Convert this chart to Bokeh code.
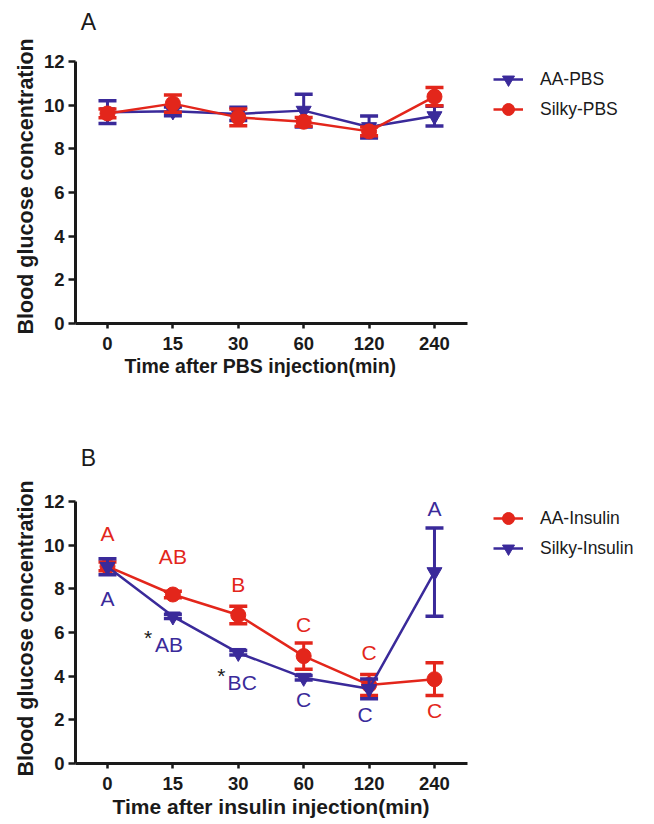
from bokeh.plotting import figure
from bokeh.layouts import column
from bokeh.models import FixedTicker, Legend, LegendItem, Range1d, Label, Title, ColumnDataSource
from bokeh.core.properties import value
from bokeh.embed import file_html
from bokeh.resources import INLINE

# ---------------- data ----------------
time_labels = ["0", "15", "30", "60", "120", "240"]
xi = list(range(len(time_labels)))

# Panel A (PBS)
aa_pbs_mean = [9.68, 9.72, 9.60, 9.75, 9.00, 9.50]
aa_pbs_sem = [0.52, 0.20, 0.30, 0.75, 0.50, 0.45]
silky_pbs_mean = [9.62, 10.07, 9.44, 9.24, 8.80, 10.39]
silky_pbs_sem = [0.20, 0.40, 0.38, 0.20, 0.20, 0.42]

# Panel B (Insulin)
aa_ins_mean = [9.03, 7.74, 6.80, 4.92, 3.60, 3.86]
aa_ins_sem = [0.20, 0.15, 0.40, 0.60, 0.48, 0.75]
silky_ins_mean = [9.01, 6.74, 5.07, 3.93, 3.42, 8.77]
silky_ins_sem = [0.37, 0.10, 0.10, 0.10, 0.45, 2.02]

# significance letters (panel B)
red_letters = ["A", "AB", "B", "C", "C", "C"]
red_letter_x = [0, 1, 2, 3, 4, 5]
red_letter_y = [10.55, 9.49, 8.22, 6.37, 5.07, 2.44]
blue_letters = ["A", "AB", "BC", "C", "C", "A"]
blue_letter_x = [0, 0.94, 2.06, 3.0, 3.94, 5.0]
blue_letter_y = [7.58, 5.45, 3.70, 2.94, 2.25, 11.70]
star_x = [0.62, 1.74]
star_y = [5.75, 4.02]

RED = "#e3261b"
BLUE = "#3a2a9a"
AXC = "#1a1a1a"
FONT = "Liberation Sans"
PX = 262 / 12.0  # pixels per y unit
XPX = 65.4       # pixels per category


def make_fig(height, top, frame_h, bottom, xlabel, xlabel_size, xlabel_off, ylabel_off):
    p = figure(width=654, height=height, output_backend="svg", toolbar_location=None,
               x_range=Range1d(-0.489, -0.489 + 579 / XPX),
               y_range=Range1d(0, frame_h / PX),
               min_border_left=75, min_border_right=0,
               min_border_top=top, min_border_bottom=bottom)
    p.outline_line_color = None
    p.xgrid.visible = False
    p.ygrid.visible = False
    p.background_fill_color = "white"
    p.border_fill_color = "white"
    for ax in (p.xaxis[0], p.yaxis[0]):
        ax.axis_line_width = 3
        ax.axis_line_color = AXC
        ax.major_tick_line_color = AXC
        ax.major_tick_line_width = 2.5
        ax.major_tick_in = 0
        ax.minor_tick_line_color = None
        ax.major_label_text_font = FONT
        ax.major_label_text_font_style = "bold"
        ax.major_label_text_font_size = "18.5px"
        ax.major_label_text_color = AXC
    p.xaxis[0].bounds = (-0.489, 5.5)
    p.xaxis[0].ticker = FixedTicker(ticks=xi)
    p.xaxis[0].major_label_overrides = {i: t for i, t in zip(xi, time_labels)}
    p.xaxis[0].major_tick_out = 5
    p.xaxis[0].major_label_standoff = 8
    p.yaxis[0].bounds = (0, 12)
    p.yaxis[0].ticker = FixedTicker(ticks=[0, 2, 4, 6, 8, 10, 12])
    p.yaxis[0].major_tick_out = 7
    p.yaxis[0].major_label_standoff = 4
    # axis titles (as side titles so they can be centred on the axis line)
    p.add_layout(Title(text=xlabel, align="left", offset=xlabel_off, standoff=0,
                       text_font=FONT, text_font_style="bold", text_font_size=xlabel_size,
                       text_color=AXC), "below")
    p.add_layout(Title(text="Blood glucose concentration", align="left", offset=ylabel_off,
                       standoff=6, text_font=FONT, text_font_style="bold",
                       text_font_size="21.5px", text_color=AXC), "left")
    return p


def series(p, mean, sem, color, marker):
    src = ColumnDataSource(dict(
        x=xi, y=mean,
        lo=[m - s for m, s in zip(mean, sem)],
        hi=[m + s for m, s in zip(mean, sem)]))
    p.segment(x0="x", y0="lo", x1="x", y1="hi", source=src, line_color=color, line_width=3)
    p.scatter(x="x", y="lo", source=src, marker="dash", size=18, line_color=color, line_width=3.5)
    p.scatter(x="x", y="hi", source=src, marker="dash", size=18, line_color=color, line_width=3.5)
    ln = p.line(x="x", y="y", source=src, line_color=color, line_width=2.5)
    mk = p.scatter(x="x", y="y", source=src, marker=marker, size=15,
                   fill_color=color, line_color=color)
    return [ln, mk]


def add_legend(p, items, y):
    leg = Legend(items=[LegendItem(label=lab, renderers=r) for lab, r in items],
                 location=(418, y), border_line_color=None, background_fill_alpha=0,
                 padding=0, margin=0, spacing=0, glyph_width=30, glyph_height=30,
                 label_standoff=17, label_text_font=FONT, label_text_font_size="17.5px",
                 label_text_color=AXC, label_height=30)
    p.add_layout(leg, "center")


# ---------------- Panel A ----------------
pa = make_fig(440, 5, 318, 117, "Time after PBS injection(min)", "19.5px", 49, -11)
ra_blue = series(pa, aa_pbs_mean, aa_pbs_sem, BLUE, "inverted_triangle")
ra_red = series(pa, silky_pbs_mean, silky_pbs_sem, RED, "circle")
add_legend(pa, [("AA-PBS", ra_blue), ("Silky-PBS", ra_red)], 199)
pa.add_layout(Label(x=-0.29, y=13.83, text="A", text_font=FONT, text_font_size="23px",
                    text_align="center", text_baseline="middle", text_color=AXC))

# ---------------- Panel B ----------------
pb = make_fig(382, 0, 323, 59, "Time after insulin injection(min)", "21px", 37, -13)
rb_red = series(pb, aa_ins_mean, aa_ins_sem, RED, "circle")
rb_blue = series(pb, silky_ins_mean, silky_ins_sem, BLUE, "inverted_triangle")
add_legend(pb, [("AA-Insulin", rb_red), ("Silky-Insulin", rb_blue)], 200)
pb.add_layout(Label(x=-0.29, y=13.97, text="B", text_font=FONT, text_font_size="23px",
                    text_align="center", text_baseline="middle", text_color=AXC))

pb.text(x=red_letter_x, y=red_letter_y, text=red_letters, text_color=RED,
        text_font=value(FONT), text_font_size="21px", text_align="center", text_baseline="middle")
pb.text(x=blue_letter_x, y=blue_letter_y, text=blue_letters, text_color=BLUE,
        text_font=value(FONT), text_font_size="21px", text_align="center", text_baseline="middle")
pb.text(x=star_x, y=star_y, text=["*", "*"], text_color=AXC,
        text_font=value(FONT), text_font_size="21px", text_align="center", text_baseline="middle")

layout = column(pa, pb, spacing=0)
open("out.html", "w").write(file_html(layout, INLINE))
